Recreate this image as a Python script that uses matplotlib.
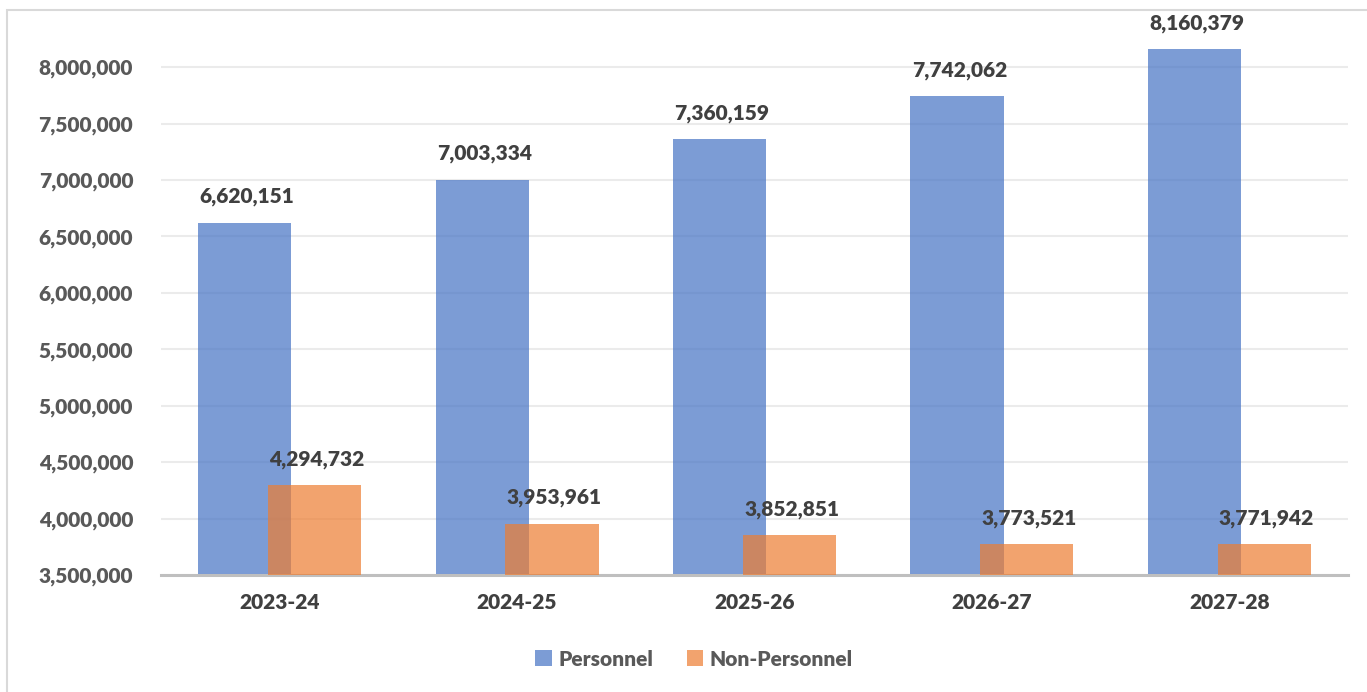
# Personnel vs Non-Personnel budget by fiscal year (overlapping bars)

import numpy as np
import matplotlib.pyplot as plt
from matplotlib.patches import Rectangle
from matplotlib.ticker import FuncFormatter

years = ['2023-24', '2024-25', '2025-26', '2026-27', '2027-28']
personnel = [6620151, 7003334, 7360159, 7742062, 8160379]
non_personnel = [4294732, 3953961, 3852851, 3773521, 3771942]

plt.rcParams['font.family'] = ['Lato', 'DejaVu Sans']
FW = 'heavy'
FS = 15

fig = plt.figure(figsize=(13.67, 6.92), dpi=100)
ax = fig.add_axes([161/1367, 1-575/692, (1348-161)/1367, (575-22)/692])

# chart border (only left/top visible in the original crop)
fig.patches.append(Rectangle((7/1367, -0.1), 1.2, 1.1 - 10/692, transform=fig.transFigure,
                             fill=False, edgecolor='#d9d9d9', linewidth=1.5))

x = np.arange(len(years))
w = 0.392
off = 0.147
blue = '#4472C4'
orange = '#ED7D31'

b1 = ax.bar(x - off, personnel, w, color=blue, alpha=0.7, label='Personnel', zorder=2)
b2 = ax.bar(x + off, non_personnel, w, color=orange, alpha=0.7, label='Non-Personnel', zorder=3)

for xi, v in zip(x - off, personnel):
    ax.text(xi + 0.01, v + 230000, f'{v:,}', ha='center', va='center', fontsize=FS,
            fontweight=FW, color='#404040')
for xi, v in zip(x + off, non_personnel):
    ax.text(xi + 0.01, v + 230000, f'{v:,}', ha='center', va='center', fontsize=FS,
            fontweight=FW, color='#404040')

ax.set_xlim(-0.5, len(years) - 0.5)
ax.set_ylim(3500000, 8400000)
ax.set_yticks(np.arange(3500000, 8000001, 500000))
ax.yaxis.set_major_formatter(FuncFormatter(lambda v, p: f'{int(v):,}'))
ax.set_xticks(x)
ax.set_xticklabels(years)

ax.grid(axis='y', color='#ebebeb', linewidth=1.5, zorder=0)
ax.set_axisbelow(True)
for s in ['top', 'right', 'left']:
    ax.spines[s].set_visible(False)
ax.spines['bottom'].set_color('#bfbfbf')
ax.spines['bottom'].set_linewidth(2.2)
ax.tick_params(axis='both', length=0)
ax.tick_params(axis='y', pad=20, labelsize=FS, labelcolor='#595959')
ax.tick_params(axis='x', pad=13, labelsize=FS, labelcolor='#404040')
for t in ax.get_yticklabels() + ax.get_xticklabels():
    t.set_fontweight(FW)

fig.legend(handles=[b1, b2], loc='center', bbox_to_anchor=(694/1367, 1-659/692),
           ncol=2, frameon=False, handlelength=0.8, handleheight=0.8,
           handletextpad=0.3, columnspacing=1.6,
           prop={'size': FS, 'weight': FW}, labelcolor='#595959')

fig.savefig('out.png', dpi=100)
